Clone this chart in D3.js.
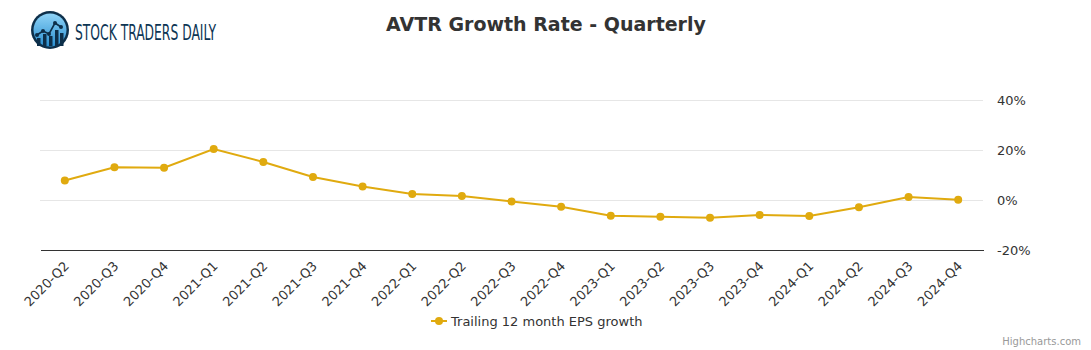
<!DOCTYPE html>
<html><head><meta charset="utf-8">
<script src="https://cdn.jsdelivr.net/npm/d3@7"></script>
<style>
html,body{margin:0;padding:0;background:#fff;}
svg{display:block;font-family:"DejaVu Sans",sans-serif;}
</style></head>
<body><div id="chart"></div>
<script>
const categories = ["2020-Q2","2020-Q3","2020-Q4","2021-Q1","2021-Q2","2021-Q3","2021-Q4","2022-Q1","2022-Q2","2022-Q3","2022-Q4","2023-Q1","2023-Q2","2023-Q3","2023-Q4","2024-Q1","2024-Q2","2024-Q3","2024-Q4"];
const epsGrowth = [7.8,13.1,12.9,20.4,15.2,9.2,5.4,2.4,1.6,-0.6,-2.7,-6.3,-6.7,-7.1,-6.0,-6.4,-2.9,1.2,0.1];
const yTicks = [-20,0,20,40];
const seriesName = "Trailing 12 month EPS growth";
const titleText = "AVTR Growth Rate - Quarterly";

const W = 1091, H = 350;
const plotLeft = 40, plotRight = 983, plotTop = 100, plotBottom = 250;
const color = "#e0aa0f";

const svg = d3.select("#chart").append("svg").attr("width", W).attr("height", H);

// Logo
const logo = svg.append("g").attr("transform","translate(50,30)");
const defs = svg.append("defs");
const grad = defs.append("linearGradient").attr("id","lg").attr("x1","0").attr("y1","0").attr("x2","0").attr("y2","1");
grad.append("stop").attr("offset","0").attr("stop-color","#8fd3f7");
grad.append("stop").attr("offset","1").attr("stop-color","#2a8fd0");
logo.append("circle").attr("r",19).attr("fill","#0d2f4a");
logo.append("circle").attr("r",16.5).attr("fill","url(#lg)");
const bars = [[-13,6],[-7,10],[-1,8],[5,14],[10,11]];
bars.forEach(([bx,bh])=>{
  logo.append("rect").attr("x",bx).attr("y",16-bh-2).attr("width",3.5).attr("height",bh+2).attr("fill","#0d2f4a");
});
logo.append("polyline").attr("points","-13,5 -7,1 -1,4 5,-7 11,-3").attr("fill","none").attr("stroke","#0d2f4a").attr("stroke-width",1.6);
[[-13,5],[-7,1],[-1,4],[5,-7],[11,-3]].forEach(([px,py])=>logo.append("circle").attr("cx",px).attr("cy",py).attr("r",2).attr("fill","#0d2f4a"));
svg.append("text").attr("x",75).attr("y",39.5).attr("fill","#0d3554")
  .style("font-family","'Liberation Sans Narrow','DejaVu Sans Condensed',sans-serif")
  .style("font-size","21px").attr("textLength",141).attr("lengthAdjust","spacingAndGlyphs")
  .text("STOCK TRADERS DAILY");

// Title
svg.append("text").attr("x",546).attr("y",31).attr("text-anchor","middle")
  .attr("fill","#333").style("font-size","19px").style("font-weight","bold").text(titleText);

const x = d3.scaleBand().domain(categories).range([plotLeft,plotRight]);
const y = d3.scaleLinear().domain([-20,40]).range([plotBottom,plotTop]);

// grid
svg.append("g").selectAll("line").data(yTicks.filter(t=>t!==-20)).join("line")
  .attr("x1",plotLeft).attr("x2",plotRight).attr("y1",d=>y(d)).attr("y2",d=>y(d))
  .attr("stroke","#e6e6e6").attr("stroke-width",1).attr("shape-rendering","crispEdges");

// y axis labels (right)
const yAxis = d3.axisRight(y).tickValues(yTicks).tickFormat(d=>d+"%").tickSize(0).tickPadding(0);
const ya = svg.append("g").attr("transform",`translate(${plotRight+14},0)`).call(yAxis);
ya.select(".domain").remove();
ya.selectAll("text").attr("fill","#333").style("font-size","13px").style("font-family","'DejaVu Sans',sans-serif").attr("dy","0.32em");

// x axis
const xAxis = d3.axisBottom(x).tickSize(0).tickPadding(0);
const xa = svg.append("g").attr("transform",`translate(0,${plotBottom})`).call(xAxis);
xa.select(".domain").attr("stroke","#333").attr("stroke-width",1).attr("shape-rendering","crispEdges");
xa.selectAll(".tick text").attr("fill","#333").style("font-size","13px").style("font-family","'DejaVu Sans',sans-serif")
  .attr("text-anchor","end").attr("dy","0").attr("y",0)
  .attr("transform","translate(5,17) rotate(-45)");

// line
const line = d3.line().x((d,i)=>x(categories[i])+x.bandwidth()/2).y(d=>y(d));
svg.append("path").datum(epsGrowth).attr("d",line).attr("fill","none").attr("stroke",color).attr("stroke-width",2);
svg.append("g").selectAll("circle").data(epsGrowth).join("circle")
  .attr("cx",(d,i)=>x(categories[i])+x.bandwidth()/2).attr("cy",d=>y(d)).attr("r",4).attr("fill",color);

// legend
const lg = svg.append("g").attr("transform","translate(438,321)");
lg.append("line").attr("x1",-7).attr("x2",9).attr("stroke",color).attr("stroke-width",2);
lg.append("circle").attr("cx",1).attr("r",4).attr("fill",color);
lg.append("text").attr("x",13).attr("y",5).attr("fill","#333").style("font-size","13px").text(seriesName);

// credits
svg.append("text").attr("x",1081).attr("y",345).attr("text-anchor","end").attr("fill","#999").style("font-size","10px").text("Highcharts.com");
</script></body></html>
